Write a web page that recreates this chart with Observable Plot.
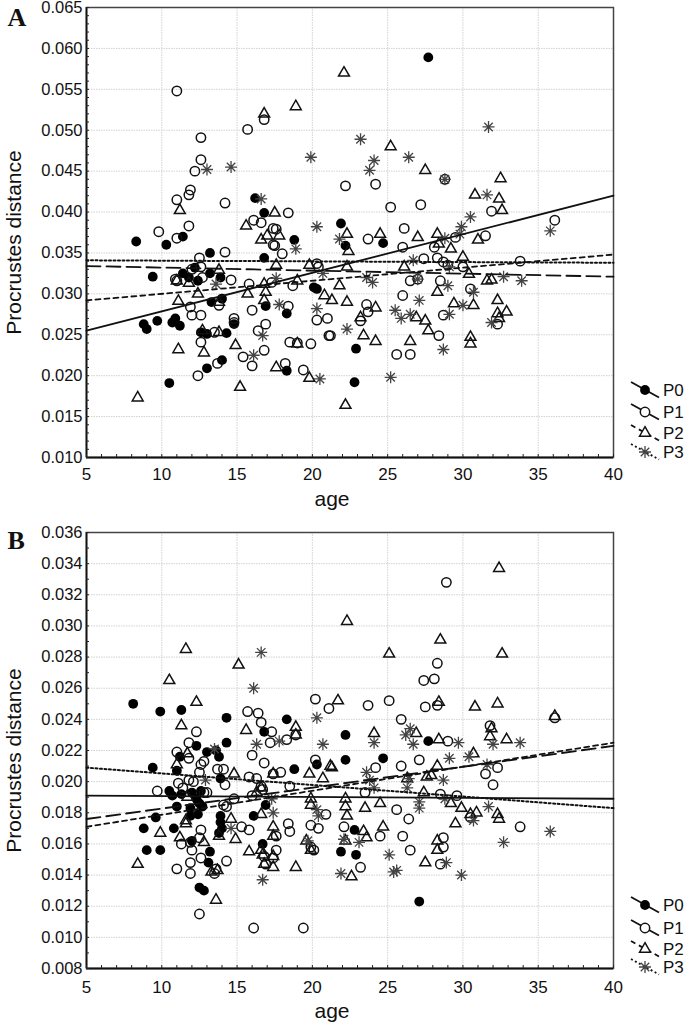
<!DOCTYPE html>
<html><head><meta charset="utf-8">
<script src="https://cdn.jsdelivr.net/npm/d3@7"></script>
<script src="https://cdn.jsdelivr.net/npm/@observablehq/plot@0.6"></script>
<style>
body{margin:0;background:#fff;}
#wrap{position:relative;width:685px;height:1025px;overflow:hidden;font-family:"Liberation Sans",Arial,sans-serif;background:#fff;}
#wrap svg{display:block;}
</style></head><body><div id="wrap"></div>
<script>
// ---------- data (age, Procrustes distance) ----------
const groups = ["P0","P1","P2","P3"];
const xTicks = [5,10,15,20,25,30,35,40];
const yTicksA = [0.010,0.015,0.020,0.025,0.030,0.035,0.040,0.045,0.050,0.055,0.060,0.065];
const yTicksB = [0.008,0.010,0.012,0.014,0.016,0.018,0.020,0.022,0.024,0.026,0.028,0.030,0.032,0.034,0.036];
const fitAges = [5, 40];

// Panel A
const A_P0 = [[8.3,0.0364],[10.3,0.0360],[11.4,0.0370],[13.2,0.0350],[16.8,0.0344],[16.2,0.0417],[16.8,0.0399],[18.8,0.0366],[21.9,0.0386],[22.2,0.0359],[24.7,0.0362],[27.7,0.0589],[9.4,0.0321],[11.4,0.0325],[12.2,0.0332],[11.8,0.0320],[12.4,0.0316],[13.2,0.0325],[13.9,0.0320],[14.0,0.0294],[13.3,0.0290],[8.8,0.0263],[9.0,0.0257],[9.7,0.0267],[10.7,0.0265],[11.2,0.0261],[10.9,0.0270],[12.6,0.0253],[13.0,0.0251],[14.3,0.0252],[14.8,0.0263],[16.9,0.0285],[18.3,0.0276],[20.1,0.0308],[20.3,0.0306],[22.9,0.0233],[22.8,0.0192],[10.5,0.0191],[13.0,0.0209],[14.0,0.0219],[18.3,0.0206]];
const A_P1 = [[11.0,0.0548],[12.6,0.0491],[12.6,0.0464],[12.2,0.0450],[11.9,0.0427],[11.8,0.0421],[11.0,0.0415],[14.2,0.0411],[15.7,0.0501],[16.8,0.0513],[18.4,0.0399],[16.1,0.0390],[16.6,0.0387],[17.6,0.0379],[17.5,0.0359],[9.8,0.0376],[11.0,0.0368],[11.8,0.0383],[22.2,0.0432],[24.2,0.0434],[25.2,0.0406],[27.2,0.0409],[26.1,0.0380],[23.7,0.0367],[26.0,0.0357],[29.5,0.0369],[31.5,0.0371],[31.9,0.0401],[36.1,0.0390],[28.8,0.0440],[27.4,0.0343],[28.3,0.0344],[28.1,0.0357],[28.7,0.0339],[29.0,0.0335],[30.0,0.0333],[33.8,0.0340],[26.5,0.0316],[27.0,0.0318],[28.5,0.0316],[30.5,0.0306],[26.0,0.0298],[23.6,0.0287],[23.7,0.0278],[23.2,0.0267],[28.7,0.0274],[28.4,0.0249],[32.3,0.0263],[21.2,0.0249],[25.6,0.0226],[26.5,0.0226],[17.4,0.0380],[17.4,0.0360],[18.0,0.0349],[12.5,0.0344],[14.2,0.0351],[12.7,0.0320],[12.0,0.0330],[12.6,0.0333],[10.9,0.0318],[14.6,0.0317],[15.8,0.0312],[17.3,0.0314],[18.7,0.0310],[20.3,0.0337],[20.4,0.0333],[18.4,0.0285],[16.0,0.0280],[11.9,0.0284],[12.0,0.0274],[12.6,0.0274],[13.8,0.0286],[14.8,0.0270],[14.8,0.0265],[16.9,0.0263],[16.4,0.0255],[20.3,0.0268],[21.0,0.0270],[21.1,0.0249],[12.6,0.0241],[13.5,0.0253],[18.5,0.0241],[19.0,0.0240],[19.9,0.0239],[11.0,0.0316],[12.4,0.0200],[13.7,0.0215],[15.4,0.0223],[16.0,0.0212],[16.8,0.0231],[18.2,0.0215],[19.4,0.0207]];
const A_P2 = [[8.4,0.0173],[11.2,0.0402],[15.6,0.0383],[16.8,0.0520],[18.9,0.0529],[16.6,0.0366],[17.0,0.0371],[17.5,0.0399],[17.8,0.0371],[22.1,0.0570],[25.2,0.0480],[27.5,0.0451],[32.5,0.0441],[30.8,0.0421],[32.4,0.0416],[32.6,0.0402],[22.3,0.0373],[24.5,0.0373],[27.0,0.0369],[28.3,0.0373],[28.4,0.0361],[29.2,0.0355],[30.0,0.0345],[31.0,0.0366],[22.4,0.0352],[22.3,0.0333],[26.1,0.0333],[21.8,0.0310],[30.4,0.0324],[31.6,0.0316],[31.9,0.0317],[21.3,0.0292],[22.3,0.0290],[23.2,0.0271],[24.2,0.0283],[23.4,0.0249],[24.2,0.0242],[26.9,0.0271],[27.5,0.0267],[27.7,0.0255],[26.5,0.0242],[28.3,0.0302],[29.4,0.0288],[30.7,0.0286],[32.3,0.0292],[32.3,0.0276],[32.9,0.0278],[32.4,0.0270],[30.5,0.0247],[30.5,0.0239],[11.0,0.0316],[11.1,0.0291],[11.1,0.0232],[12.8,0.0228],[12.4,0.0300],[13.8,0.0329],[13.8,0.0290],[13.8,0.0253],[12.7,0.0255],[14.9,0.0237],[15.2,0.0186],[15.7,0.0300],[16.8,0.0312],[16.9,0.0302],[16.8,0.0292],[17.6,0.0335],[17.6,0.0210],[19.0,0.0239],[19.0,0.0316],[19.8,0.0335],[19.8,0.0197],[20.8,0.0298],[11.8,0.0313],[22.2,0.0164]];
const A_P3 = [[13.0,0.0452],[14.6,0.0455],[19.9,0.0467],[16.6,0.0416],[20.3,0.0382],[21.8,0.0367],[23.2,0.0489],[24.1,0.0463],[23.8,0.0451],[26.4,0.0467],[31.7,0.0504],[28.8,0.0440],[31.6,0.0421],[30.5,0.0394],[29.9,0.0382],[29.8,0.0373],[28.8,0.0368],[35.8,0.0377],[26.7,0.0341],[29.1,0.0333],[23.6,0.0320],[24.0,0.0314],[27.0,0.0318],[29.0,0.0310],[32.7,0.0321],[33.9,0.0316],[30.7,0.0302],[27.1,0.0292],[25.5,0.0280],[25.9,0.0270],[26.5,0.0275],[29.1,0.0275],[30.0,0.0286],[31.9,0.0265],[22.3,0.0257],[28.7,0.0232],[25.2,0.0198],[18.9,0.0355],[13.6,0.0312],[17.6,0.0319],[20.7,0.0325],[17.8,0.0287],[20.3,0.0282],[16.7,0.0249],[16.1,0.0225],[20.5,0.0196]];
// regression line values at age 5 and age 40
const A_fit_P0 = [0.0255, 0.0420];
const A_fit_P1 = [0.0334, 0.0321];
const A_fit_P2 = [0.0292, 0.0348];
const A_fit_P3 = [0.0341, 0.0338];

// Panel B
const B_P0 = [[8.1,0.0250],[9.9,0.0245],[11.3,0.0246],[14.3,0.0241],[14.3,0.0225],[18.3,0.0240],[16.8,0.0232],[9.4,0.0209],[22.2,0.0230],[22.2,0.0214],[20.3,0.0211],[18.8,0.0208],[12.3,0.0223],[13.0,0.0219],[13.6,0.0220],[13.8,0.0216],[11.0,0.0207],[13.9,0.0202],[10.5,0.0194],[10.7,0.0191],[11.3,0.0192],[12.0,0.0193],[12.3,0.0189],[12.6,0.0194],[12.5,0.0186],[12.7,0.0184],[11.9,0.0183],[11.0,0.0184],[11.9,0.0178],[12.4,0.0179],[13.9,0.0178],[13.9,0.0174],[14.0,0.0170],[13.8,0.0167],[9.6,0.0177],[8.8,0.0170],[10.8,0.0170],[9.0,0.0156],[9.9,0.0156],[16.1,0.0178],[16.9,0.0185],[16.7,0.0160],[13.2,0.0155],[13.1,0.0148],[12.0,0.0162],[21.9,0.0155],[22.9,0.0153],[22.8,0.0169],[12.5,0.0132],[12.8,0.0130],[27.1,0.0123],[24.7,0.0215],[27.7,0.0226],[11.2,0.0216]];
const B_P1 = [[12.3,0.0232],[11.8,0.0225],[11.0,0.0219],[11.8,0.0215],[15.7,0.0245],[16.4,0.0244],[16.6,0.0238],[17.3,0.0232],[17.2,0.0225],[18.3,0.0227],[18.9,0.0230],[16.0,0.0217],[16.8,0.0212],[20.2,0.0253],[21.1,0.0247],[20.2,0.0214],[28.9,0.0328],[28.3,0.0276],[27.4,0.0265],[28.1,0.0266],[27.5,0.0248],[28.3,0.0249],[23.7,0.0249],[25.1,0.0252],[25.9,0.0240],[31.8,0.0236],[36.1,0.0241],[29.0,0.0226],[27.1,0.0214],[25.9,0.0210],[24.2,0.0209],[23.5,0.0193],[31.5,0.0205],[32.0,0.0198],[29.6,0.0191],[28.5,0.0192],[25.6,0.0182],[26.4,0.0176],[22.1,0.0171],[24.5,0.0165],[26.0,0.0165],[26.5,0.0156],[28.7,0.0164],[28.7,0.0158],[28.5,0.0147],[23.2,0.0145],[33.8,0.0171],[30.5,0.0177],[32.3,0.0209],[17.4,0.0205],[17.9,0.0206],[12.6,0.0211],[12.8,0.0213],[12.5,0.0206],[13.7,0.0208],[14.1,0.0208],[14.2,0.0198],[15.8,0.0203],[16.3,0.0202],[16.6,0.0197],[16.7,0.0195],[18.5,0.0197],[11.1,0.0199],[11.4,0.0196],[11.8,0.0201],[12.1,0.0200],[9.7,0.0194],[12.8,0.0193],[13.0,0.0193],[14.1,0.0185],[14.3,0.0184],[14.8,0.0189],[16.0,0.0191],[20.9,0.0179],[19.9,0.0172],[18.4,0.0173],[18.5,0.0168],[15.3,0.0171],[15.8,0.0169],[12.6,0.0169],[12.5,0.0164],[11.3,0.0160],[11.9,0.0161],[12.0,0.0156],[12.6,0.0151],[11.9,0.0148],[11.0,0.0144],[11.9,0.0141],[14.3,0.0149],[13.6,0.0144],[13.5,0.0141],[16.8,0.0152],[16.9,0.0147],[17.4,0.0151],[12.5,0.0115],[16.1,0.0106],[19.4,0.0106],[20.4,0.0170],[20.1,0.0156],[19.9,0.0158],[17.6,0.0165],[17.6,0.0156]];
const B_P2 = [[11.6,0.0285],[10.5,0.0265],[12.3,0.0251],[11.3,0.0236],[15.1,0.0275],[15.6,0.0233],[18.9,0.0235],[18.9,0.0230],[21.7,0.0252],[32.4,0.0337],[22.3,0.0303],[28.5,0.0291],[25.1,0.0282],[32.6,0.0282],[28.4,0.0251],[30.8,0.0248],[32.3,0.0250],[24.1,0.0231],[26.9,0.0231],[28.4,0.0227],[31.9,0.0234],[32.9,0.0227],[36.1,0.0242],[30.7,0.0218],[28.3,0.0210],[31.8,0.0229],[21.2,0.0210],[26.3,0.0202],[27.6,0.0203],[27.9,0.0204],[22.2,0.0189],[22.2,0.0184],[22.3,0.0178],[23.5,0.0183],[24.5,0.0186],[27.4,0.0193],[29.2,0.0186],[29.9,0.0183],[30.5,0.0179],[30.9,0.0180],[32.3,0.0179],[32.4,0.0176],[29.5,0.0173],[24.7,0.0171],[23.4,0.0168],[23.6,0.0164],[22.2,0.0162],[28.3,0.0162],[28.3,0.0156],[27.5,0.0148],[22.6,0.0139],[19.8,0.0205],[21.3,0.0209],[20.7,0.0202],[14.8,0.0205],[17.4,0.0205],[16.6,0.0196],[16.3,0.0193],[11.7,0.0218],[11.0,0.0211],[11.7,0.0190],[19.9,0.0189],[19.9,0.0185],[14.6,0.0176],[16.6,0.0179],[17.4,0.0171],[17.4,0.0165],[9.9,0.0167],[11.2,0.0164],[11.6,0.0175],[11.6,0.0173],[12.8,0.0161],[13.8,0.0165],[14.9,0.0163],[15.8,0.0155],[16.6,0.0156],[16.7,0.0153],[16.8,0.0147],[17.4,0.0152],[17.4,0.0145],[18.9,0.0145],[19.6,0.0162],[19.9,0.0156],[8.4,0.0147],[13.7,0.0143],[13.3,0.0142],[13.6,0.0124]];
const B_P3 = [[16.6,0.0283],[16.1,0.0260],[16.3,0.0224],[17.8,0.0226],[20.3,0.0241],[20.7,0.0224],[13.5,0.0221],[26.5,0.0234],[26.2,0.0230],[26.7,0.0224],[24.1,0.0225],[29.7,0.0225],[32.0,0.0224],[33.8,0.0225],[29.1,0.0215],[30.4,0.0216],[31.6,0.0211],[23.6,0.0206],[23.8,0.0201],[24.1,0.0196],[26.4,0.0202],[26.3,0.0196],[28.7,0.0201],[28.8,0.0189],[27.1,0.0187],[27.1,0.0183],[30.7,0.0175],[31.7,0.0184],[32.7,0.0161],[35.8,0.0168],[25.1,0.0153],[25.6,0.0143],[25.4,0.0142],[28.9,0.0148],[29.9,0.0140],[21.9,0.0141],[22.1,0.0163],[23.1,0.0161],[12.9,0.0201],[17.3,0.0189],[17.4,0.0180],[20.3,0.0182],[20.4,0.0178],[19.7,0.0162],[16.7,0.0137],[14.6,0.0170]];
const B_fit_P0 = [0.0191, 0.0189];
const B_fit_P1 = [0.0176, 0.0223];
const B_fit_P2 = [0.0171, 0.0225];
const B_fit_P3 = [0.0209, 0.0183];

// ---------- styles ----------
const asterisk = {draw(ctx, size){ const r = Math.sqrt(size/Math.PI)*1.2, d = r*0.7071;
  ctx.moveTo(0,-r); ctx.lineTo(0,r); ctx.moveTo(-r,0); ctx.lineTo(r,0);
  ctx.moveTo(-d,-d); ctx.lineTo(d,d); ctx.moveTo(-d,d); ctx.lineTo(d,-d); }};
const S = {
  P0:{symbol:d3.symbolCircle, r:4.9, fill:"#000", stroke:"none", sw:0},
  P1:{symbol:d3.symbolCircle, r:4.7, fill:"none", stroke:"#111", sw:1.5},
  P2:{symbol:d3.symbolTriangle2, r:5.2, fill:"none", stroke:"#111", sw:1.5},
  P3:{symbol:asterisk, r:5, fill:"none", stroke:"#444", sw:1.3}
};
const dash = {P0:null, P1:"14,6", P2:"5,4", P3:"2,2.5"};
const fmt3 = d3.format(".3f");
const xMinor = d3.range(5, 40.5, 1);

function panel(o){
  const marks = [
    Plot.gridX(xTicks, {stroke:"#d2d2d2", strokeOpacity:1, strokeDasharray:"1.5,1"}),
    Plot.gridY(o.yTicks, {stroke:"#d2d2d2", strokeOpacity:1, strokeDasharray:"1.5,1"}),
    Plot.frame({stroke:"#444", strokeWidth:1.5}),
    Plot.ruleX([o.xDomain[0]], {stroke:"#111", strokeWidth:1.8}),
    Plot.ruleY([o.yDomain[0]], {stroke:"#111", strokeWidth:1.8}),
    Plot.axisX(xMinor, {tickSize:3, dy:-3, fill:"none", stroke:"#222"}),
    Plot.axisY(o.yMinor, {tickSize:3, dx:3, fill:"none", stroke:"#222"}),
    Plot.axisX(xTicks, {tickSize:0, tickPadding:o.xPad, fontSize:17, tickFormat:d=>String(d), fill:"#111"}),
    Plot.axisY(o.yTicks, {tickSize:0, tickPadding:4, fontSize:16.5, tickFormat:fmt3, fill:"#111"}),
    ...groups.map(g => Plot.dot(o.pts[g], {x:d=>d[0], y:d=>d[1], symbol:S[g].symbol, r:S[g].r, fill:S[g].fill, stroke:S[g].stroke, strokeWidth:S[g].sw})),
    ...groups.map(g => Plot.line(o.fit[g].map((v,i)=>[fitAges[i], v]), {x:d=>d[0], y:d=>d[1], stroke:"#111", strokeWidth:g==="P3"?2:1.8, strokeDasharray:dash[g]})),
    Plot.text(["Procrustes distance"], {frameAnchor:"left", textAnchor:"middle", lineAnchor:"middle", rotate:-90, dx:-72, dy:10, fontSize:21, fill:"#111"}),
    Plot.text(["age"], {frameAnchor:"bottom", textAnchor:"middle", lineAnchor:"middle", dx:-18, dy:o.ageDy, fontSize:21, fill:"#111"}),
    Plot.text([o.letter], {frameAnchor:"top-left", textAnchor:"start", lineAnchor:"middle", dx:-79, dy:o.letterDy, fontSize:26, fontWeight:"bold", fontFamily:"Liberation Serif, Times New Roman, serif", fill:"#111"})
  ];
  return Plot.plot({
    width:685, height:o.height, marginLeft:86, marginRight:72, marginTop:o.mt, marginBottom:o.mb,
    x:{domain:o.xDomain, label:null}, y:{domain:o.yDomain, label:null},
    style:{fontFamily:"Liberation Sans, Arial, sans-serif", fontSize:"17px", background:"#fff", color:"#111", overflow:"visible"},
    marks
  });
}

const wrap = document.getElementById("wrap");
const pA = panel({
  pts:{P0:A_P0, P1:A_P1, P2:A_P2, P3:A_P3},
  fit:{P0:A_fit_P0, P1:A_fit_P1, P2:A_fit_P2, P3:A_fit_P3},
  xDomain:[5,40], yDomain:[0.010,0.065], yTicks:yTicksA, yMinor:d3.range(10,66).map(v=>v/1000),
  height:510, mt:7, mb:53, xPad:10, ageDy:42, letter:"A", letterDy:9.7
});
const pB = panel({
  pts:{P0:B_P0, P1:B_P1, P2:B_P2, P3:B_P3},
  fit:{P0:B_fit_P0, P1:B_fit_P1, P2:B_fit_P2, P3:B_fit_P3},
  xDomain:[5,40], yDomain:[0.008,0.036], yTicks:yTicksB, yMinor:d3.range(8,37).map(v=>v/1000),
  height:515, mt:22, mb:57, xPad:12, ageDy:43, letter:"B", letterDy:7.7
});
const dA = document.createElement("div"); dA.style.cssText = "position:absolute;left:0;top:0;"; dA.appendChild(pA); wrap.appendChild(dA);
const dB = document.createElement("div"); dB.style.cssText = "position:absolute;left:0;top:510px;"; dB.appendChild(pB); wrap.appendChild(dB);

// ---------- legends ----------
const ov = d3.select(wrap).append("svg").attr("width",685).attr("height",1025)
  .style("position","absolute").style("left","0px").style("top","0px");
function legend(ys){
  groups.forEach((g,i)=>{
    const y = ys[i];
    ov.append("line").attr("x1",631).attr("y1",y-8).attr("x2",659).attr("y2",y+7.5)
      .attr("stroke","#111").attr("stroke-width",1.8).attr("stroke-dasharray",dash[g]);
    ov.append("path").attr("transform",`translate(645,${y})`)
      .attr("d", d3.symbol(S[g].symbol, Math.PI*S[g].r*S[g].r)())
      .attr("fill", g==="P0" ? "#000" : (g==="P3" ? "none" : "#fff"))
      .attr("stroke", g==="P0" ? "none" : S[g].stroke).attr("stroke-width", S[g].sw);
    ov.append("text").attr("x",663).attr("y",y).attr("dy","0.36em")
      .attr("font-size",17).attr("font-family","Liberation Sans, Arial, sans-serif").attr("fill","#111").text(g);
  });
}
legend([390, 412, 433, 452]);
legend([905, 928, 949, 967]);
</script></body></html>
